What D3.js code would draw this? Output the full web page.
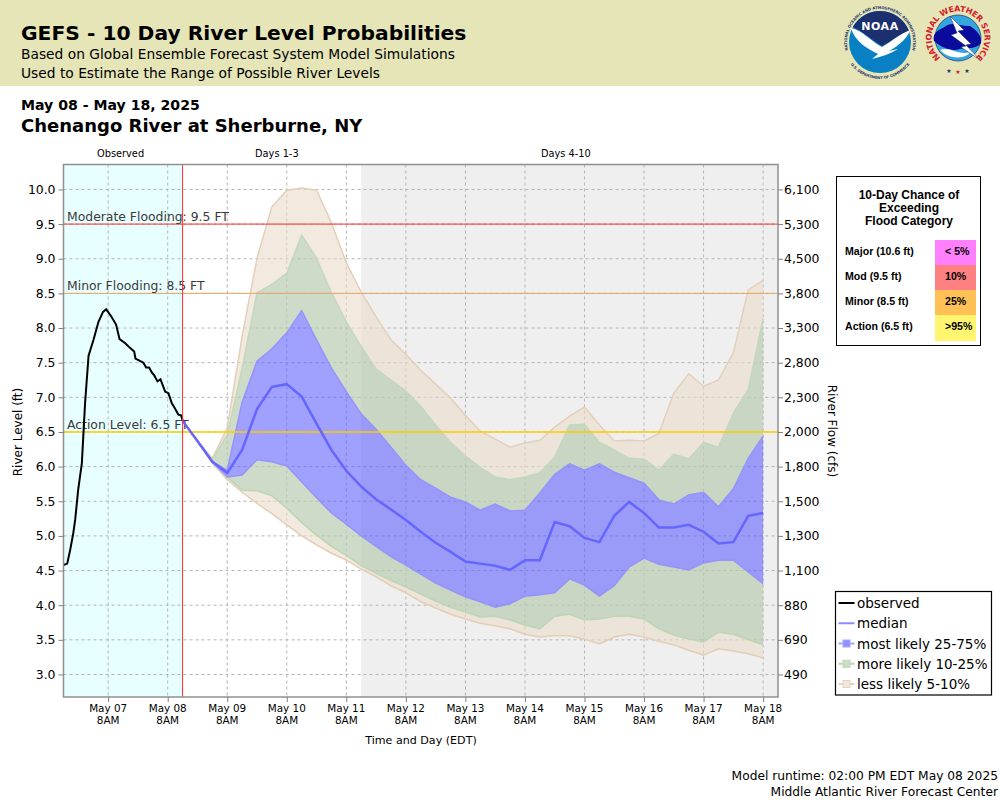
<!DOCTYPE html>
<html>
<head>
<meta charset="utf-8">
<title>GEFS River Level Probabilities</title>
<script src="https://cdn.jsdelivr.net/npm/d3@7"></script>
<style>
    body { margin: 0; background: #fff; }
    svg { display: block; }
    text { font-family: "DejaVu Sans", sans-serif; }
</style>
</head>
<body>
<div id="chart"></div>
<script>
// Observed stage, hours after May 07 8AM
let obsHours = [-18, -16.5, -15.3, -14.1, -13.3, -12.1, -10.6, -9.3, -7.9, -5.9, -3.9, -2.1, -0.8, 1.2, 3.2, 4.6, 6.9, 8.9, 10.5, 11, 12.6, 14.2, 15.3, 16.5, 17.6, 18.5, 19.9, 21.1, 23, 24.3, 25.7, 26.6, 28.3, 29.4, 30];
let obsLevel = [4.58, 4.60, 4.80, 5.03, 5.23, 5.66, 6.05, 6.92, 7.60, 7.83, 8.09, 8.23, 8.27, 8.17, 8.05, 7.84, 7.78, 7.71, 7.66, 7.56, 7.53, 7.50, 7.43, 7.43, 7.36, 7.32, 7.23, 7.26, 7.08, 7.06, 6.91, 6.86, 6.75, 6.74, 6.67];

// Forecast series, one value every 6 hours from May 08 2PM
let median = [6.66, 6.37, 6.07, 5.91, 6.24, 6.83, 7.15, 7.19, 7.01, 6.62, 6.24, 5.94, 5.71, 5.53, 5.38, 5.23, 5.06, 4.90, 4.77, 4.63, 4.60, 4.57, 4.51, 4.65, 4.65, 5.20, 5.14, 4.97, 4.91, 5.29, 5.49, 5.33, 5.12, 5.12, 5.16, 5.06, 4.89, 4.91, 5.29, 5.33];
let likelyHi = [6.66, 6.37, 6.07, 5.95, 6.93, 7.52, 7.70, 7.93, 8.25, 7.83, 7.42, 7.08, 6.76, 6.54, 6.28, 6.02, 5.81, 5.69, 5.56, 5.49, 5.37, 5.46, 5.36, 5.37, 5.62, 5.89, 6.04, 5.95, 6.04, 5.92, 5.84, 5.76, 5.52, 5.46, 5.59, 5.63, 5.42, 5.68, 6.12, 6.44];
let likelyLo = [6.66, 6.37, 6.07, 5.85, 5.88, 6.10, 6.07, 6.01, 5.78, 5.55, 5.33, 5.17, 5.00, 4.85, 4.70, 4.58, 4.45, 4.32, 4.22, 4.12, 4.05, 3.97, 4.02, 4.13, 4.15, 4.18, 4.38, 4.29, 4.13, 4.28, 4.55, 4.68, 4.59, 4.55, 4.51, 4.61, 4.65, 4.65, 4.48, 4.31];
let moreHi = [6.66, 6.37, 6.10, 6.46, 7.42, 8.51, 8.63, 8.79, 9.34, 9.01, 8.51, 8.09, 7.73, 7.41, 7.25, 7.09, 6.87, 6.60, 6.35, 6.15, 5.99, 5.85, 5.81, 5.85, 5.91, 6.14, 6.60, 6.61, 6.35, 6.24, 6.12, 6.11, 5.95, 6.18, 6.11, 6.35, 6.28, 6.77, 7.11, 8.14];
let moreLo = [6.66, 6.37, 6.07, 5.85, 5.66, 5.65, 5.58, 5.40, 5.19, 5.01, 4.85, 4.72, 4.57, 4.46, 4.36, 4.26, 4.16, 4.06, 3.97, 3.90, 3.83, 3.84, 3.79, 3.71, 3.66, 3.84, 3.87, 3.79, 3.80, 3.84, 3.84, 3.80, 3.66, 3.57, 3.51, 3.47, 3.61, 3.58, 3.50, 3.43];
let lessHi = [6.66, 6.37, 6.12, 6.56, 7.88, 9.01, 9.75, 9.99, 10.02, 9.99, 9.52, 8.94, 8.52, 8.16, 7.83, 7.62, 7.39, 7.19, 6.99, 6.74, 6.51, 6.40, 6.28, 6.34, 6.38, 6.57, 6.73, 6.86, 6.60, 6.37, 6.38, 6.37, 6.48, 7.06, 7.34, 7.16, 7.25, 7.64, 8.55, 8.69];
let lessLo = [6.66, 6.37, 6.05, 5.81, 5.63, 5.47, 5.32, 5.16, 5.00, 4.87, 4.75, 4.65, 4.52, 4.41, 4.28, 4.18, 4.05, 3.96, 3.87, 3.80, 3.74, 3.70, 3.66, 3.58, 3.54, 3.56, 3.56, 3.51, 3.44, 3.54, 3.58, 3.54, 3.48, 3.43, 3.35, 3.28, 3.37, 3.34, 3.30, 3.24];

// Axis labels
let levelTicks = [3.0, 3.5, 4.0, 4.5, 5.0, 5.5, 6.0, 6.5, 7.0, 7.5, 8.0, 8.5, 9.0, 9.5, 10.0];
let flowLabels = ["490", "690", "880", "1,100", "1,300", "1,500", "1,800", "2,000", "2,300", "2,800", "3,300", "3,800", "4,500", "5,300", "6,100"];
let dayLabels = ["May 07", "May 08", "May 09", "May 10", "May 11", "May 12", "May 13", "May 14", "May 15", "May 16", "May 17", "May 18"];

// Flood levels and chance table
let floodNames = ["Moderate Flooding: 9.5 FT", "Minor Flooding: 8.5 FT", "Action Level: 6.5 FT"];
let floodLevels = [9.5, 8.5, 6.5];
let floodColors = ["#ff2a2a", "#e9a566", "#ffcc00"];
let chanceNames = ["Major (10.6 ft)", "Mod (9.5 ft)", "Minor (8.5 ft)", "Action (6.5 ft)"];
let chanceValues = ["< 5%", "10%", "25%", ">95%"];
let chanceColors = ["#ff80ff", "#ff8080", "#ffc055", "#fff56e"];

let legendNames = ["observed", "median", "most likely 25-75%", "more likely 10-25%", "less likely 5-10%"];

let svg = d3.select("#chart")
    .append("svg")
    .attr("width", 1000)
    .attr("height", 800);

// Header band
svg.append("rect")
    .attr("width", 1000)
    .attr("height", 86)
    .attr("fill", "#e5e5b8");

function addText(parent, x, y, str, size, weight, anchor) {
    return parent.append("text")
        .attr("x", x)
        .attr("y", y)
        .attr("font-size", size + "px")
        .attr("font-weight", weight || "normal")
        .attr("text-anchor", anchor || "start")
        .attr("fill", "black")
        .text(str);
}

addText(svg, 21, 40, "GEFS - 10 Day River Level Probabilities", 20.25, "bold");
addText(svg, 21, 59, "Based on Global Ensemble Forecast System Model Simulations", 13.8);
addText(svg, 21, 78, "Used to Estimate the Range of Possible River Levels", 13.8);
addText(svg, 21, 110, "May 08 - May 18, 2025", 14.1, "bold");
addText(svg, 21, 132, "Chenango River at Sherburne, NY", 18, "bold");

drawNoaaLogo(svg, 880, 42);
drawNwsLogo(svg, 958, 38);

// Scales
let plotL = 63.5, plotR = 778, plotT = 164.5, plotB = 697;
let firstDay = new Date(2025, 4, 7, 8);
let forecastStart = new Date(2025, 4, 8, 14);
let longStart = new Date(2025, 4, 11, 14);

let x = d3.scaleTime()
    .domain([new Date(2025, 4, 6, 14), new Date(2025, 4, 18, 14)])
    .range([plotL, plotR]);
let y = d3.scaleLinear()
    .domain([2.675, 10.36])
    .range([plotB, plotT]);

let dayTicks = dayLabels.map((d, i) => d3.timeDay.offset(firstDay, i));
let obsData = obsHours.map((h, i) => ({ time: d3.timeMinute.offset(firstDay, h * 60), level: obsLevel[i] }));
let forecastTimes = median.map((d, i) => d3.timeHour.offset(forecastStart, i * 6));

// Plot backgrounds
let plot = svg.append("g");
plot.append("rect")
    .attr("x", plotL).attr("y", plotT)
    .attr("width", x(forecastStart) - plotL).attr("height", plotB - plotT)
    .attr("fill", "#e8ffff");
plot.append("rect")
    .attr("x", x(longStart)).attr("y", plotT)
    .attr("width", plotR - x(longStart)).attr("height", plotB - plotT)
    .attr("fill", "#efefef");

// Dashed grid
plot.selectAll(".hgrid")
    .data(levelTicks)
    .enter().append("line")
    .attr("x1", plotL).attr("x2", plotR)
    .attr("y1", d => y(d)).attr("y2", d => y(d))
    .attr("stroke", "#b4b4b4")
    .attr("stroke-dasharray", "3,3");
plot.selectAll(".vgrid")
    .data(dayTicks)
    .enter().append("line")
    .attr("x1", d => x(d)).attr("x2", d => x(d))
    .attr("y1", plotT).attr("y2", plotB)
    .attr("stroke", "#b4b4b4")
    .attr("stroke-dasharray", "3,3");

// Probability bands, each one sits between two series
function drawBand(lower, upper, fill, opacity) {
    let area = d3.area()
        .x((d, i) => x(forecastTimes[i]))
        .y0((d, i) => y(lower[i]))
        .y1((d, i) => y(upper[i]));
    plot.append("path")
        .attr("d", area(median))
        .attr("fill", fill)
        .attr("fill-opacity", opacity);
}
function drawEdge(series, color) {
    let line = d3.line()
        .x((d, i) => x(forecastTimes[i]))
        .y(d => y(d));
    plot.append("path")
        .attr("d", line(series))
        .attr("fill", "none")
        .attr("stroke", color)
        .attr("stroke-width", 1.5);
}

drawBand(moreHi, lessHi, "rgb(233,218,202)", 0.6);
drawBand(lessLo, moreLo, "rgb(233,218,202)", 0.6);
drawBand(likelyHi, moreHi, "rgb(184,204,176)", 0.7);
drawBand(moreLo, likelyLo, "rgb(184,204,176)", 0.7);
drawBand(likelyLo, likelyHi, "rgb(97,97,255)", 0.6);

drawEdge(lessHi, "#e4d0ba");
drawEdge(lessLo, "#e4ceb6");
drawEdge(moreHi, "#c4d8bc");
drawEdge(moreLo, "#bcd6b2");
drawEdge(likelyHi, "#9494fa");
drawEdge(likelyLo, "#9494fa");

// Flood level lines and their names
floodLevels.forEach((level, i) => {
    plot.append("line")
        .attr("x1", plotL).attr("x2", plotR)
        .attr("y1", y(level)).attr("y2", y(level))
        .attr("stroke", floodColors[i])
        .attr("stroke-width", i == 2 ? 1.5 : 1);
    addText(plot, 67, y(level) - 3, floodNames[i], 12.4).attr("fill", "#3a3a3a");
});

// Median and observed lines
plot.append("path")
    .attr("d", d3.line().x((d, i) => x(forecastTimes[i])).y(d => y(d))(median))
    .attr("fill", "none")
    .attr("stroke", "#6666ff")
    .attr("stroke-width", 2.5);
plot.append("path")
    .attr("d", d3.line().x(d => x(d.time)).y(d => y(d.level))(obsData))
    .attr("fill", "none")
    .attr("stroke", "black")
    .attr("stroke-width", 2);

// Start of the forecast
plot.append("line")
    .attr("x1", x(forecastStart)).attr("x2", x(forecastStart))
    .attr("y1", plotT).attr("y2", plotB)
    .attr("stroke", "#ff2a2a");

// Axes
let levelFormat = d3.format(".1f");
let leftAxis = d3.axisLeft(y).tickValues(levelTicks).tickFormat(levelFormat).tickSize(5).tickPadding(3);
let rightAxis = d3.axisRight(y).tickValues(levelTicks).tickFormat((d, i) => flowLabels[i]).tickSize(5).tickPadding(1);
let bottomAxis = d3.axisBottom(x).tickValues(dayTicks).tickFormat(d => "").tickSize(5);

let axes = [
    svg.append("g").attr("transform", `translate(${plotL},0)`).call(leftAxis),
    svg.append("g").attr("transform", `translate(${plotR},0)`).call(rightAxis),
    svg.append("g").attr("transform", `translate(0,${plotB})`).call(bottomAxis)
];
axes.forEach(g => {
    g.select(".domain").remove();
    g.selectAll("line").attr("stroke", "#808080");
    g.selectAll("text").attr("font-family", "DejaVu Sans").attr("font-size", "12.4px").attr("fill", "black");
});

// Two line day labels under the bottom axis
dayTicks.forEach((d, i) => {
    addText(svg, x(d), 712, dayLabels[i], 10.4, "normal", "middle");
    addText(svg, x(d), 724, "8AM", 10.4, "normal", "middle");
});

plot.append("rect")
    .attr("x", plotL).attr("y", plotT)
    .attr("width", plotR - plotL).attr("height", plotB - plotT)
    .attr("fill", "none")
    .attr("stroke", "#909090")
    .attr("stroke-width", 1.5);

// Period names above the plot
addText(svg, x(new Date(2025, 4, 7, 13)), 157, "Observed", 9.8, "normal", "middle");
addText(svg, x(new Date(2025, 4, 10, 4)), 157, "Days 1-3", 9.8, "normal", "middle");
addText(svg, x(new Date(2025, 4, 15, 0, 30)), 157, "Days 4-10", 9.8, "normal", "middle");

// Axis titles
addText(svg, 421, 744, "Time and Day (EDT)", 11.1, "normal", "middle");
addText(svg, 0, 0, "River Level (ft)", 12, "normal", "middle")
    .attr("transform", "translate(22,432) rotate(-90)");
addText(svg, 0, 0, "River Flow (cfs)", 12, "normal", "middle")
    .attr("transform", "translate(828,431) rotate(90)");

// Chance of exceeding table
let table = svg.append("g");
table.append("rect")
    .attr("x", 836.5).attr("y", 176.5)
    .attr("width", 144).attr("height", 169)
    .attr("fill", "white")
    .attr("stroke", "black");
["10-Day Chance of", "Exceeding", "Flood Category"].forEach((line, i) => {
    addText(table, 909, 199 + i * 13, line, 12, "bold", "middle").style("font-family", "Liberation Sans");
});
chanceNames.forEach((name, i) => {
    table.append("rect")
        .attr("x", 935).attr("y", 240 + i * 25)
        .attr("width", 41).attr("height", i == 3 ? 26 : 25)
        .attr("fill", chanceColors[i]);
    addText(table, 845, 255 + i * 25, name, 10.6, "bold").style("font-family", "Liberation Sans");
    addText(table, 945, 255 + i * 25, chanceValues[i], 10.6, "bold").style("font-family", "Liberation Sans");
});

// Legend
let legend = svg.append("g");
legend.append("rect")
    .attr("x", 835.5).attr("y", 591.5)
    .attr("width", 156).attr("height", 103.5)
    .attr("fill", "white")
    .attr("stroke", "black")
    .attr("stroke-width", 1.2);
let legendLines = ["black", "#8c8cff", "#a6a6ff", "#bcd6b2", "#e6d3bd"];
let legendBoxes = [null, null, "#9090ff", "#cddcc8", "#f0e6da"];
let legendRow = d3.scalePoint().domain(legendNames).range([603, 684]);
legendNames.forEach((name, i) => {
    let rowY = legendRow(name);
    legend.append("line")
        .attr("x1", 838.5).attr("x2", 854.5)
        .attr("y1", rowY).attr("y2", rowY)
        .attr("stroke", legendLines[i])
        .attr("stroke-width", 2);
    if (legendBoxes[i]) {
        legend.append("rect")
            .attr("x", 843).attr("y", rowY - 3.5)
            .attr("width", 7).attr("height", 7)
            .attr("fill", legendBoxes[i])
            .attr("stroke", legendLines[i]);
    }
    addText(legend, 857, rowY + 5, name, 13.5);
});

// Footer
addText(svg, 998, 780, "Model runtime: 02:00 PM EDT May 08 2025", 12.25, "normal", "end");
addText(svg, 998, 796, "Middle Atlantic River Forecast Center", 12.25, "normal", "end");

function ringText(g, id, radius, startDeg, endDeg, sweep, str, size, color, length) {
    // Arc for text that follows a circle, the text is centered on the arc
    let a0 = startDeg * Math.PI / 180, a1 = endDeg * Math.PI / 180;
    let travel = sweep ? endDeg - startDeg : 360 - (endDeg - startDeg);
    g.append("path")
        .attr("id", id)
        .attr("fill", "none")
        .attr("d", `M${radius * Math.sin(a0)},${-radius * Math.cos(a0)} A${radius},${radius} 0 ${travel > 180 ? 1 : 0} ${sweep} ${radius * Math.sin(a1)},${-radius * Math.cos(a1)}`);
    g.append("text")
        .attr("font-size", size + "px")
        .attr("font-weight", "bold")
        .attr("fill", color)
        .attr("text-anchor", "middle")
        .append("textPath")
        .attr("href", "#" + id)
        .attr("startOffset", "50%")
        .attr("textLength", length)
        .text(str);
}

function drawNoaaLogo(parent, cx, cy) {
    let g = parent.append("g").attr("transform", `translate(${cx},${cy})`);
    g.append("circle").attr("r", 31).attr("fill", "#0a80c4");
    // Dark sky above the bird
    g.append("path")
        .attr("d", "M-27,-15 A31,31 0 0 1 29,-11 C20,-8 12,-1 2,4 C-8,-2 -18,-11 -27,-15 Z")
        .attr("fill", "#1c2f6e");
    // White bird
    g.append("path")
        .attr("d", "M-29,-14 C-18,-12 -8,0 2,5 C12,-1 20,-8 30,-12 C28,-5 20,3 9,9 L18,7 C10,12 0,15 -8,17 L-2,12 C-12,7 -25,0 -29,-14 Z")
        .attr("fill", "white");
    g.append("text")
        .attr("y", -12)
        .attr("text-anchor", "middle")
        .attr("font-size", "11px")
        .attr("font-weight", "bold")
        .attr("letter-spacing", "0.5")
        .attr("fill", "white")
        .text("NOAA");
    ringText(g, "noaaTop", 33, -110, 110, 1, "NATIONAL OCEANIC AND ATMOSPHERIC ADMINISTRATION", 3.8, "#2a3a6a", 120);
    ringText(g, "noaaBottom", 37, -125, 125, 0, "U.S. DEPARTMENT OF COMMERCE", 3.8, "#2a3a6a", 68);
}

function drawNwsLogo(parent, cx, cy) {
    let g = parent.append("g").attr("transform", `translate(${cx},${cy})`);
    g.append("circle").attr("r", 23).attr("fill", "#35a6dd").attr("stroke", "#1c2f6e").attr("stroke-width", 0.7);
    g.append("path")
        .attr("d", "M-24,3 C-26,-7 -16,-9 -12,-12 C-5,-17 4,-11 12,-12 C20,-7 24,-1 23,5 C18,12 8,9 2,11 C-6,14 -16,10 -24,3 Z")
        .attr("fill", "#0a0a9c");
    g.append("path")
        .attr("d", "M-18,12 C-8,8 0,18 12,14 C10,20 -8,23 -18,12 Z")
        .attr("fill", "white");
    g.append("path")
        .attr("d", "M-8,-22 L6,-8 L0,-7 L13,6 L8,7 L22,22 L3,9 L8,8 L-7,-3 L-1,-5 Z")
        .attr("fill", "white")
        .attr("stroke", "#1c2f6e")
        .attr("stroke-width", 0.5);
    ringText(g, "nwsRing", 26.5, -150, 150, 1, "NATIONAL WEATHER SERVICE", 8, "#d5202a", 128);
    ["\u2605", "\u2605", "\u2605"].forEach((s, i) => {
        g.append("text")
            .attr("x", -9 + i * 9)
            .attr("y", 36 - Math.abs(i - 1))
            .attr("text-anchor", "middle")
            .attr("font-size", "6px")
            .attr("fill", i == 1 ? "#d5202a" : "#1c2f6e")
            .text(s);
    });
}
</script>
</body>
</html>
